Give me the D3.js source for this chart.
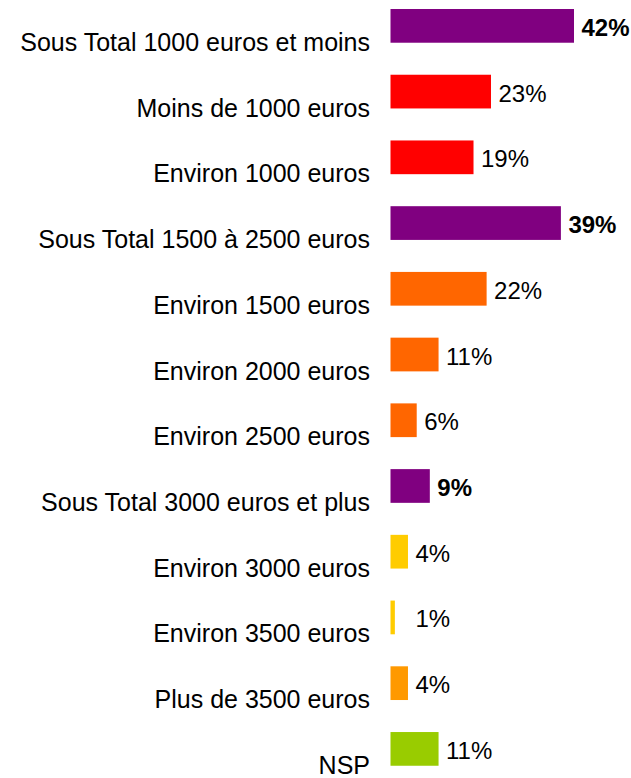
<!DOCTYPE html>
<html>
<head>
<meta charset="utf-8">
<script src="https://cdn.jsdelivr.net/npm/d3@7"></script>
<style>
  html, body { margin: 0; padding: 0; background: #fff; }
  svg { display: block; font-family: "Liberation Sans", Arial, sans-serif; }
</style>
</head>
<body>
<svg id="chart" width="631" height="778"></svg>
<script>
const categories = [
  "Sous Total 1000 euros et moins",
  "Moins de 1000 euros",
  "Environ 1000 euros",
  "Sous Total 1500 à 2500 euros",
  "Environ 1500 euros",
  "Environ 2000 euros",
  "Environ 2500 euros",
  "Sous Total 3000 euros et plus",
  "Environ 3000 euros",
  "Environ 3500 euros",
  "Plus de 3500 euros",
  "NSP"
];
const values = [42, 23, 19, 39, 22, 11, 6, 9, 4, 1, 4, 11];
const colors = ["#800080", "#FF0000", "#FF0000", "#800080", "#FF6600", "#FF6600",
                "#FF6600", "#800080", "#FFCC00", "#FFCC00", "#FF9900", "#99CC00"];
const isSubtotal = [true, false, false, true, false, false, false, true, false, false, false, false];

const svg = d3.select("#chart");

const x = d3.scaleLinear().domain([0, 42]).range([390.5, 574]);
const step = 65.73;
const y = d3.scaleBand()
  .domain(categories)
  .range([-7, -7 + 12 * step])
  .paddingInner(0.487)
  .paddingOuter(0.2435);

const rows = svg.selectAll("g.row")
  .data(categories.map((c, i) => ({ c, v: values[i], col: colors[i], sub: isSubtotal[i] })))
  .enter().append("g").attr("class", "row");

rows.append("rect")
  .attr("x", x(0))
  .attr("y", d => y(d.c))
  .attr("width", d => x(d.v) - x(0))
  .attr("height", y.bandwidth())
  .attr("fill", d => d.col);

rows.append("text")
  .attr("x", 370)
  .attr("y", d => y(d.c) + y.bandwidth() / 2 + 25)
  .attr("text-anchor", "end")
  .attr("font-size", 25)
  .attr("fill", "#000")
  .text(d => d.c);

rows.append("text")
  .attr("x", d => Math.max(x(d.v), x(4)) + 7.5)
  .attr("y", d => y(d.c) + y.bandwidth() / 2 + 10)
  .attr("font-size", 24)
  .attr("font-weight", d => d.sub ? "bold" : "normal")
  .attr("fill", "#000")
  .text(d => d.v + "%");
</script>
</body>
</html>
